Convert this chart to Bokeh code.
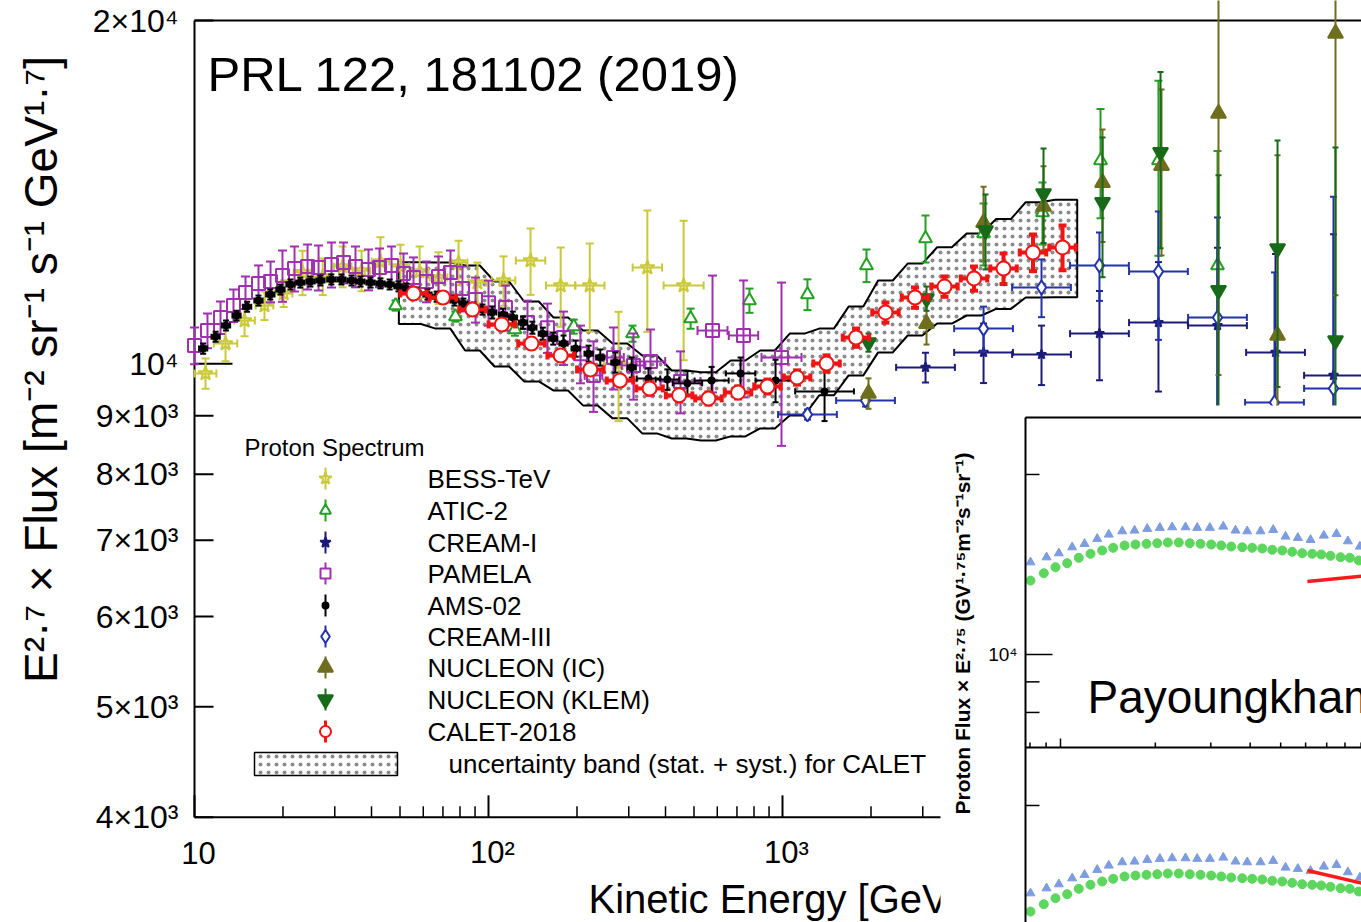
import numpy as np
from bokeh.plotting import figure
from bokeh.models import Range1d, LogScale
from bokeh.core.properties import value
from bokeh.embed import file_html
from bokeh.resources import INLINE

# ------------------------------------------------------------------ data
bess_e = [10.9, 12.75, 14.8, 17.3, 20.1, 23.3, 27.3, 31.9, 37.0, 42.9, 50.2, 58.3, 67.6, 79.1,
          91.7, 112.5, 139, 176, 221, 277, 347, 461]
bess_f = [9804, 10415, 10910, 11246, 11522, 12024, 11926, 12168, 12070, 12292, 12168, 12046, 11904,
          12266, 11780, 11830, 12316, 11710, 11710, 10004, 12144, 11710]
bess_err = [300, 365, 340, 325, 310, 540, 440, 500, 495, 615, 550, 625, 620, 550, 485, 590, 825,
            935, 1040, 1100, 1480, 1640]
bess_dlog = [0.037, 0.04, 0.035, 0.03, 0.03, 0.03, 0.03, 0.03, 0.03, 0.03, 0.03, 0.03, 0.03, 0.03,
             0.03, 0.04, 0.05, 0.05, 0.05, 0.05, 0.05, 0.068]

atic_e = [48.3, 77.2, 123, 195, 309, 487, 772, 1216, 1931, 3065, 4829, 7662, 12070, 19000, 30170]
atic_f = [11246, 10998, 10712, 10778, 10626, 10954, 11360, 11500, 12193, 12878, 13006, 13572,
          15072, 15072, 12193]
atic_err = [115, 112, 131, 153, 173, 223, 278, 357, 402, 612, 813, 848, 1658, 2638, 3170]

cream1_e = [3065, 4829, 7603, 11970, 19000, 30170, 47530, 74840]
cream1_f = [9925, 10230, 10188, 10626, 10865, 10800, 10230, 9766]
cream1_err = [298, 614, 611, 956, 1412, 1836, 2251, 3223]
cream1_dlog = [0.1, 0.1, 0.1, 0.1, 0.1, 0.1, 0.1, 0.1]

pamela_e = [10.0, 11.07, 12.26, 13.57, 14.91, 16.51, 18.14, 19.92, 21.89, 24.24, 26.42, 29.24,
            32.13, 35.29, 39.07, 42.59, 46.79, 51.39, 55.58, 61.53, 67.6, 74.26, 81.57, 90.33,
            100, 114.2, 135.7, 158.7, 179.9, 205.5, 227.6, 266.2, 311.3, 355.6, 449.9, 578,
            736.7, 992.2]
pamela_f = [10374, 10692, 10979, 11246, 11545, 11760, 11805, 11950, 12120, 12168, 12144, 12218,
            12266, 12168, 12094, 12144, 12193, 12000, 11904, 11805, 11926, 12024, 11640, 11382,
            11312, 11200, 10865, 10755, 10542, 10205, 9766, 10125, 9964, 10044, 9648, 10692,
            10586, 10125]
pamela_err = [384, 373, 360, 369, 379, 435, 486, 619, 550, 552, 551, 555, 505, 501, 498, 475, 477,
              494, 490, 486, 491, 546, 528, 517, 514, 508, 493, 535, 568, 594, 694, 633, 665, 670,
              603, 1256, 1244, 1655]
pamela_dlog = [0, 0, 0, 0, 0, 0, 0, 0, 0, 0, 0, 0, 0, 0, 0, 0, 0, 0, 0, 0, 0, 0, 0, 0, 0, 0, 0, 0,
               0, 0, 0.03, 0.035, 0.04, 0.05, 0.068, 0.051, 0.05, 0.068]

ams_e = [10.7, 11.8, 12.8, 13.9, 15.1, 16.5, 18.1, 19.6, 21.2, 22.9, 24.8, 26.8, 29.2, 31.6, 34.2,
         36.7, 39.7, 42.9, 46.1, 49.4, 52.6, 56.9, 62.0, 66.6, 71.4, 76.6, 82.2, 88.9, 95.4, 103,
         112, 121, 131, 141, 153, 166, 180, 198, 219, 240, 270, 307, 350, 406, 475, 574, 720, 947,
         1390]
ams_f = [10310, 10560, 10800, 11020, 11220, 11360, 11500, 11615, 11735, 11780, 11805, 11830, 11855,
         11855, 11830, 11805, 11780, 11760, 11735, 11690, 11640, 11545, 11500, 11450, 11430, 11360,
         11290, 11200, 11155, 11090, 11040, 10975, 10865, 10755, 10625, 10520, 10415, 10310, 10205,
         10125, 10025, 9925, 9705, 9685, 9610, 9665, 9805, 9665, 9455]
ams_err = [105, 107, 109, 111, 113, 115, 116, 117, 118, 119, 119, 119, 120, 120, 119, 119, 119, 119,
           118, 118, 118, 117, 117, 116, 116, 115, 115, 114, 114, 135, 135, 134, 133, 131, 130, 128,
           170, 168, 166, 165, 205, 202, 200, 200, 245, 270, 320, 415, 550]
ams_dlog = [0.014] * 42 + [0.04, 0.04, 0.05, 0.058, 0.05, 0.068, 0.1]

cream3_e = [1216, 1916, 4829, 7603, 11970, 19000, 30170, 47150, 74840]
cream3_f = [9024, 9284, 10734, 11664, 12193, 12046, 10979, 9246, 9512]
cream3_err = [92, 113, 487, 679, 841, 1553, 2456, 2778, 4500]
cream3_dlog = [0.1, 0.1, 0.1, 0.1, 0.1, 0.1, 0.1, 0.1, 0.1]

nic_e = [1961, 3089, 4829, 7723, 12260, 19460, 30410, 48280, 76030]
nic_f = [9418, 10844, 13296, 13736, 14416, 14920, 16574, 10586, 19482]
nic_err = [290, 450, 1000, 1160, 1630, 2475, 6800, 4650, 8000]

nkl_e = [1961, 3089, 4904, 7723, 12260, 19310, 30410, 48280, 76030]
nkl_f = [10436, 11406, 13084, 14102, 13850, 15324, 11594, 12620, 10480]
nkl_err = [191, 279, 988, 1341, 1942, 2700, 3035, 3079, 4993]

calet_e = [55.6, 70.0, 88.2, 111, 140, 176, 222, 280, 353, 445, 560, 706, 889, 1121, 1412, 1778,
           2240, 2823, 3556, 4481, 5646, 7113, 8964]
calet_f = [11522, 11430, 11154, 10824, 10415, 10166, 9884, 9665, 9512, 9380, 9322, 9436, 9550, 9726,
           10004, 10542, 11090, 11430, 11686, 11878, 12120, 12518, 12646]
calet_err = [95, 95, 90, 90, 105, 100, 100, 95, 115, 115, 115, 115, 135, 140, 165, 195, 225, 235,
             240, 290, 375, 465, 570]
band_hi = [12275, 12266, 12193, 11806, 11338, 10979, 10692, 10415, 10166, 9863, 9830, 10065, 10270,
           10626, 10734, 11222, 11830, 12240, 12650, 13006, 13392, 13854, 13922]
band_lo = [10836, 10734, 10270, 9944, 9648, 9474, 9192, 8954, 8686, 8598, 8564, 8634, 8774, 9006,
           9380, 9766, 10230, 10586, 10844, 11022, 11170, 11430, 11436]

y_ticks = [4000, 5000, 6000, 7000, 8000, 9000, 10000, 20000]
y_tick_labels = ["4×10³", "5×10³", "6×10³", "7×10³", "8×10³", "9×10³", "10⁴", "2×10⁴"]
y_title = "E²·⁷ × Flux [m⁻² sr⁻¹ s⁻¹ GeV¹·⁷]"
x_major = [10, 100, 1000]
x_major_labels = ["10", "10²", "10³"]
x_minor = [20, 30, 40, 50, 60, 70, 80, 90, 200, 300, 400, 500, 600, 700, 800, 900, 2000, 3000]
x_title = "Kinetic Energy [GeV]"

legend_names = ["BESS-TeV", "ATIC-2", "CREAM-I", "PAMELA", "AMS-02", "CREAM-III",
                "NUCLEON (IC)", "NUCLEON (KLEM)", "CALET-2018"]
band_label = "uncertainty band (stat. + syst.) for CALET"

# inset (second paper)
ins_tri_x = [8.03, 9.03, 9.88, 10.89, 11.92, 13.08, 14.23, 15.70, 17.18, 18.85, 20.67, 22.62, 24.94,
             27.16, 29.79, 32.86, 35.94, 39.15, 43.14, 47.34, 51.81, 56.68, 62.2, 68.55, 75.2,
             81.7, 89.2]
ins_tri_y = [14265, 14544, 14770, 15114, 15314, 15613, 15874, 16077, 16121, 16226, 16290, 16328,
             16328, 16290, 16290, 16369, 16121, 16077, 16077, 16163, 15750, 15674, 15552, 15812,
             15914, 15469, 15156]
ins_cir_x = [8.03, 8.85, 9.64, 10.5, 11.43, 12.45, 13.56, 14.7, 15.97, 17.3, 18.75, 20.28, 21.91,
             23.74, 25.73, 27.83, 30.09, 32.37, 34.83, 37.75, 40.6, 43.69, 47.0, 50.56, 54.4, 58.52,
             62.97, 67.25, 71.96, 77.45, 82.85, 88.5]
ins_cir_y = [13293, 13677, 13996, 14213, 14511, 14736, 14925, 15081, 15217, 15274, 15314, 15350,
             15392, 15392, 15350, 15314, 15274, 15217, 15156, 15114, 15081, 15042, 14966, 14925,
             14849, 14770, 14736, 14699, 14622, 14544, 14511, 14362]
ins_fit_x = [60.8, 96.4]
ins_fit_up = [13244, 13566]
ins_fit_lo = [15572, 14710]
ins_yt_short = [20000, 9000, 8000]
ins_yt_long = [10000]
ins_xt_minor = [8, 9, 20, 30, 40, 50, 60, 70, 80, 90]
ins_xt_major = [10]

# ------------------------------------------------------------------ geometry (page px)
W, H = 1361, 922
X0, DX = 194, 294.0       # x = 10 at px 194, one decade = 294 px
Y0, DY = 20, 1140.0       # y = 2e4 at px 20, one decade = 1140 px


def xv(px):
    return 10 ** (1 + (px - X0) / DX)


def yv(py):
    return 2e4 * 10 ** (-(py - Y0) / DY)


IX0, IDX = 1060, 315.0
IY1, IY2, IDY = 654, 985, 598.0


def ixv(px):
    return 10 ** (1 + (px - IX0) / IDX)


def iy1v(py):
    return 1e4 * 10 ** ((IY1 - py) / IDY)


def iy2v(py):
    return 1e4 * 10 ** ((IY2 - py) / IDY)


FONT = "Liberation Sans"

# the plotting frame covers the whole canvas; both axes are drawn inside it
p = figure(width=W, height=H, x_axis_type="log", y_axis_type="log",
           x_range=Range1d(xv(0), xv(W)), y_range=Range1d(yv(H), yv(0)),
           x_axis_location=None, y_axis_location=None, toolbar_location=None,
           output_backend="svg", min_border=0)
p.outline_line_color = None
p.grid.visible = False
p.background_fill_color = "white"
p.border_fill_color = "white"

p.extra_x_ranges = {"ix": Range1d(ixv(0), ixv(W))}
p.extra_x_scales = {"ix": LogScale()}
p.extra_y_ranges = {"iy1": Range1d(iy1v(H), iy1v(0)), "iy2": Range1d(iy2v(H), iy2v(0))}
p.extra_y_scales = {"iy1": LogScale(), "iy2": LogScale()}

x_lo, y_lo, y_hi = x_major[0], y_ticks[0], y_ticks[-1]
x_end = xv(W + 20)
BLACK = dict(line_color="black")

# ------------------------------------------------------------------ y axis (left) and frame top
p.segment(x0=[x_lo], y0=[y_lo], x1=[x_lo], y1=[y_hi], line_width=2, **BLACK)
p.segment(x0=[x_lo], y0=[y_hi], x1=[x_end], y1=[y_hi], line_width=2, **BLACK)
short_y = [t for t in y_ticks if t != 10000]
p.segment(x0=[x_lo] * len(short_y), y0=short_y, x1=[xv(X0 + 19)] * len(short_y), y1=short_y,
          line_width=2, **BLACK)
p.segment(x0=[x_lo], y0=[10000], x1=[xv(X0 + 38)], y1=[10000], line_width=2, **BLACK)
p.text(x=[xv(178)] * len(y_ticks), y=y_ticks, text=y_tick_labels, text_font=value(FONT),
       text_font_size="32px", text_align="right", text_baseline="middle")
p.text(x=[xv(40)], y=[yv(369)], text=[y_title], angle=np.pi / 2, text_font=value(FONT),
       text_font_size="46px", text_align="center", text_baseline="middle")

# ------------------------------------------------------------------ uncertainty band
c = np.array(calet_e, float)
bx_u, by_u, bx_l, by_l = [c[0] * 10 ** -0.05], [band_hi[0]], [c[0] * 10 ** -0.05], [band_lo[0]]
for ci, hi, lo in zip(c, band_hi, band_lo):
    bx_u += [ci * 10 ** -0.025, ci * 10 ** 0.025]
    by_u += [hi, hi]
    bx_l += [ci * 10 ** -0.025, ci * 10 ** 0.025]
    by_l += [lo, lo]
bx_u.append(c[-1] * 10 ** 0.05)
by_u.append(band_hi[-1])
bx_l.append(c[-1] * 10 ** 0.05)
by_l.append(band_lo[-1])
HATCH = dict(fill_color="white", hatch_pattern="dot", hatch_color="#8a8a8a",
             hatch_scale=8, hatch_weight=0.5)
p.patch(bx_u + bx_l[::-1], by_u + by_l[::-1], line_color="black", line_width=2, **HATCH)


# ------------------------------------------------------------------ series
def draw(e, f, err, dlog, color, marker, size, fill, lw=2, cap=8, bw=2):
    e = np.array(e, float)
    f = np.array(f, float)
    d = np.array(err, float)
    lo, hi = f - d, f + d
    p.segment(e, lo, e, hi, line_color=color, line_width=bw)
    p.scatter(np.concatenate([e, e]), np.concatenate([lo, hi]), marker="dash", size=cap,
              line_color=color, line_width=bw)
    if dlog is not None:
        g = np.array(dlog, float)
        m = g > 0
        xl, xh = e[m] * 10 ** (-g[m]), e[m] * 10 ** g[m]
        p.segment(xl, f[m], xh, f[m], line_color=color, line_width=bw)
        p.scatter(np.concatenate([xl, xh]), np.concatenate([f[m], f[m]]), marker="dash",
                  angle=np.pi / 2, size=cap, line_color=color, line_width=bw)
    p.scatter(e, f, marker=marker, size=size, line_color=color, fill_color=fill, line_width=lw)


C_BESS, C_ATIC, C_CR1, C_PAM = "#c9c93a", "#22a022", "#1c1c78", "#a030b0"
C_AMS, C_CR3, C_NIC, C_NKL, C_CAL = "black", "#2233aa", "#6e6e1e", "#186a18", "#f01414"

draw(bess_e, bess_f, bess_err, bess_dlog, C_BESS, "star", 15, None)
draw(atic_e, atic_f, atic_err, None, C_ATIC, "triangle", 13, "white")
draw(cream1_e, cream1_f, cream1_err, cream1_dlog, C_CR1, "star", 10, C_CR1, cap=7)
draw(pamela_e, pamela_f, pamela_err, pamela_dlog, C_PAM, "square", 13, None, cap=9)
draw(ams_e, ams_f, ams_err, ams_dlog, C_AMS, "circle", 6, C_AMS, cap=6)
draw(cream3_e, cream3_f, cream3_err, cream3_dlog, C_CR3, "diamond", 14, "white", cap=7)
draw(nic_e, nic_f, nic_err, None, C_NIC, "triangle", 15, C_NIC, cap=6)
draw(nkl_e, nkl_f, nkl_err, None, C_NKL, "inverted_triangle", 15, C_NKL, cap=6)
draw(calet_e, calet_f, calet_err, [0.045] * len(calet_e), C_CAL, "circle", 14, "white",
     cap=8, bw=4)

# ------------------------------------------------------------------ legend (drawn)
TXT = dict(text_font=value(FONT), text_baseline="middle", text_align="left", text_color="black")
p.text(x=[xv(207)], y=[yv(73)], text=["PRL 122, 181102 (2019)"], text_font_size="49px", **TXT)
p.text(x=[xv(244)], y=[yv(447)], text=["Proton Spectrum"], text_font_size="24px", **TXT)
rows = [478, 510, 542, 573, 605, 636, 667, 699, 731]
leg_style = [(C_BESS, "star", 13, None, 2), (C_ATIC, "triangle", 11, "white", 2),
             (C_CR1, "star", 11, C_CR1, 2), (C_PAM, "square", 10, "white", 2),
             (C_AMS, "circle", 6, C_AMS, 2), (C_CR3, "diamond", 13, "white", 2),
             (C_NIC, "triangle", 15, C_NIC, 2), (C_NKL, "inverted_triangle", 15, C_NKL, 2),
             (C_CAL, "circle", 11, "white", 3)]
LX = xv(325)
for r, (col, mk, sz, fc, bw) in zip(rows, leg_style):
    p.segment(x0=[LX], y0=[yv(r + 11)], x1=[LX], y1=[yv(r - 11)], line_color=col, line_width=bw)
    p.scatter([LX], [yv(r)], marker=mk, size=sz, line_color=col, fill_color=fc, line_width=2)
p.text(x=[xv(427)] * len(rows), y=[yv(r) for r in rows], text=legend_names,
       text_font_size="26px", **TXT)
p.quad(left=[xv(254)], right=[xv(397)], top=[yv(752)], bottom=[yv(775)], line_color="black",
       line_width=1.5, **HATCH)
p.text(x=[xv(448)], y=[yv(763)], text=[band_label], text_font_size="26px", **TXT)

# ------------------------------------------------------------------ x axis (bottom)
p.segment(x0=[x_lo], y0=[y_lo], x1=[xv(950)], y1=[y_lo], line_width=2, **BLACK)
p.segment(x0=x_major, y0=[y_lo] * 3, x1=x_major, y1=[y_lo * 10 ** (22 / DY)] * 3,
          line_width=2, **BLACK)
p.segment(x0=x_minor, y0=[y_lo] * len(x_minor), x1=x_minor,
          y1=[y_lo * 10 ** (11 / DY)] * len(x_minor), line_width=1.5, **BLACK)
p.text(x=x_major, y=[yv(852)] * 3, text=x_major_labels, x_offset=4, text_font=value(FONT),
       text_font_size="31px", text_align="center", text_baseline="middle")
p.text(x=[xv(588)], y=[yv(898)], text=[x_title], text_font=value(FONT), text_font_size="40px",
       text_align="left", text_baseline="middle")

# ------------------------------------------------------------------ inset (second paper)
p.quad(left=[xv(940)], right=[x_end], bottom=[yv(H + 40)], top=[yv(405)],
       fill_color="white", line_color=None)
IN = dict(x_range_name="ix")
for rng in ("iy1", "iy2"):
    p.scatter(ins_tri_x, ins_tri_y, marker="triangle", size=9, fill_color="#7d9de0",
              line_color="#7d9de0", y_range_name=rng, **IN)
    p.scatter(ins_cir_x, ins_cir_y, marker="circle", size=9, fill_color="#5cd65c",
              line_color="#5cd65c", y_range_name=rng, **IN)
p.line(ins_fit_x, ins_fit_up, line_color="#ff1a1a", line_width=3.5, y_range_name="iy1", **IN)
p.line(ins_fit_x, ins_fit_lo, line_color="#ff1a1a", line_width=3.5, y_range_name="iy2", **IN)

xl_in, xr_in = ixv(1025), ixv(W + 40)
p.multi_line(xs=[[xl_in, xl_in], [xl_in, xr_in], [xl_in, xr_in]],
             ys=[[iy1v(417), iy1v(H + 40)], [iy1v(417), iy1v(417)], [iy1v(747), iy1v(747)]],
             line_width=2, y_range_name="iy1", **BLACK, **IN)
p.segment(x0=[xl_in] * 3, y0=ins_yt_short, x1=[ixv(1025 + 14)] * 3, y1=ins_yt_short,
          line_width=1.5, y_range_name="iy1", **BLACK, **IN)
p.segment(x0=[xl_in], y0=ins_yt_long, x1=[ixv(1025 + 27)], y1=ins_yt_long,
          line_width=1.5, y_range_name="iy1", **BLACK, **IN)
p.segment(x0=[xl_in], y0=[ins_yt_short[0]], x1=[ixv(1025 + 14)], y1=[ins_yt_short[0]],
          line_width=1.5, y_range_name="iy2", **BLACK, **IN)
yb = iy1v(747)
p.segment(x0=ins_xt_minor, y0=[yb] * len(ins_xt_minor), x1=ins_xt_minor,
          y1=[iy1v(747 - 5)] * len(ins_xt_minor), line_width=1.5, y_range_name="iy1",
          **BLACK, **IN)
p.segment(x0=ins_xt_major, y0=[yb], x1=ins_xt_major, y1=[iy1v(747 - 9)], line_width=1.5,
          y_range_name="iy1", **BLACK, **IN)
p.text(x=[ixv(1017)], y=[1e4], text=["10⁴"], text_font=value(FONT), text_font_size="19px",
       text_align="right", text_baseline="middle", y_range_name="iy1", **IN)
p.text(x=[ixv(962)], y=[iy1v(633)], text=["Proton Flux × E²·⁷⁵ (GV¹·⁷⁵m⁻²s⁻¹sr⁻¹)"],
       angle=np.pi / 2, text_font=value(FONT), text_font_style="bold", text_font_size="21px",
       text_align="center", text_baseline="middle", y_range_name="iy1", **IN)
p.text(x=[ixv(1087)], y=[iy1v(696)], text=["Payoungkhamdee et al."], text_font=value(FONT),
       text_font_size="46px", text_align="left", text_baseline="middle",
       y_range_name="iy1", **IN)

open("out.html", "w").write(file_html(p, INLINE))
